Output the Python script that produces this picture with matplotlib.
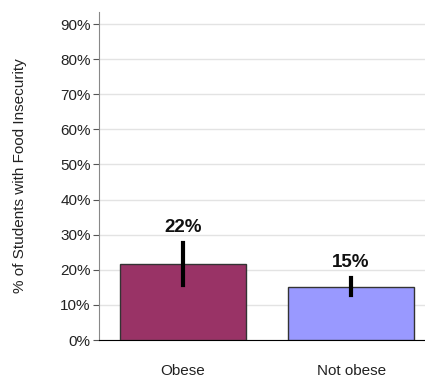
import matplotlib.pyplot as plt
from matplotlib.ticker import PercentFormatter

plt.rcParams['font.family'] = ['Liberation Sans', 'DejaVu Sans']

groups = ["Obese", "Not obese"]
values = [21.6, 15.2]
err_low = [15.7, 12.7]
err_high = [27.5, 17.6]
labels = ["22%", "15%"]
colors = ["#993366", "#9999FF"]

fig = plt.figure(figsize=(4.25, 3.77), dpi=100)
ax = fig.add_axes([0.233, 0.098, 0.767, 0.870])

x = range(len(groups))
ax.bar(x, values, width=0.75, color=colors, edgecolor="#333333", linewidth=1.0, zorder=3)
for i, v in enumerate(values):
    ax.plot([i, i], [err_low[i], err_high[i]], color="black", linewidth=3, zorder=4)
    ax.text(i, err_high[i] + 3.2, labels[i], ha="center", va="baseline",
            fontsize=13.5, fontweight="bold", color="#111111")

ax.set_ylim(0, 93.4)
ax.set_xlim(-0.5, 1.44)
ax.set_yticks(range(0, 91, 10))
ax.yaxis.set_major_formatter(PercentFormatter(decimals=0))
ax.grid(axis="y", color="#e3e3e3", linewidth=1, zorder=0)
ax.set_xticks(list(x))
ax.set_xticklabels(groups, fontsize=11, color="#222222")
ax.tick_params(axis="x", length=0, pad=17.5)
ax.tick_params(axis="y", length=4, width=0.8, pad=2, labelsize=11,
               color="#555555", labelcolor="#222222")
ax.set_ylabel("% of Students with Food Insecurity", fontsize=11, labelpad=24, color="#222222")

for s in ["top", "right"]:
    ax.spines[s].set_visible(False)
ax.spines["left"].set_color("#888888")
ax.spines["bottom"].set_color("black")

fig.savefig("out.png", dpi=100)
